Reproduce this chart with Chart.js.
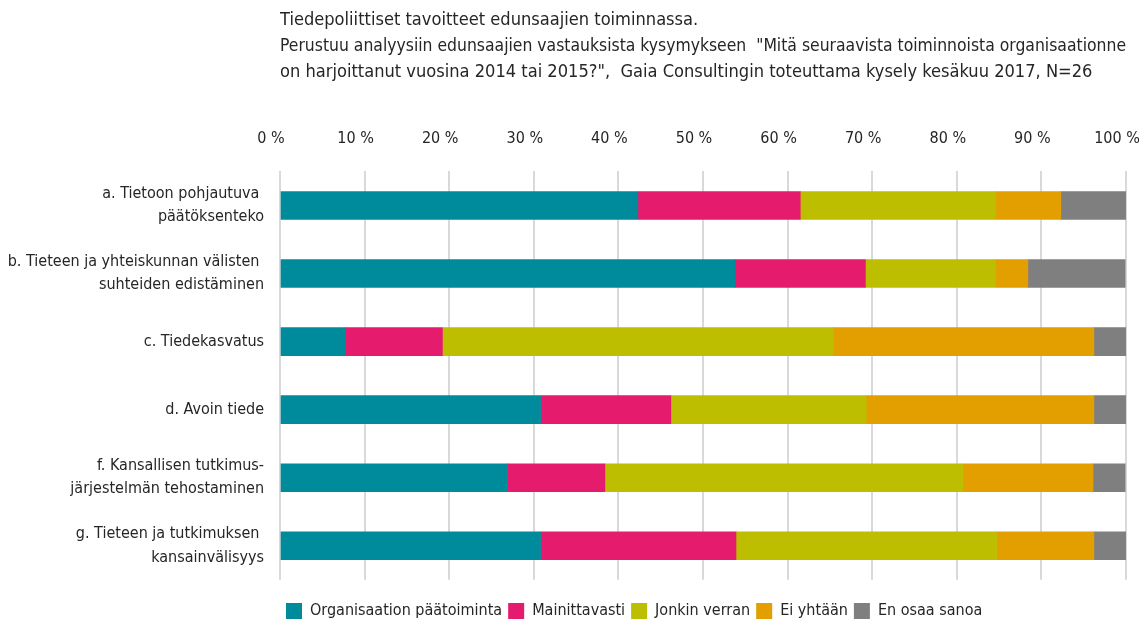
<!DOCTYPE html>
<html>
<head>
<meta charset="utf-8">
<script src="https://cdn.jsdelivr.net/npm/chart.js@4"></script>
<style>
  html, body { margin: 0; padding: 0; background: #fff; overflow: hidden; }
  #wrap { width: 1139px; height: 629px; position: relative; }
</style>
</head>
<body>
<div id="wrap"><canvas id="chart"></canvas></div>
<script>
const titleLines = [
  'Tiedepoliittiset tavoitteet edunsaajien toiminnassa.',
  'Perustuu analyysiin edunsaajien vastauksista kysymykseen  "Mitä seuraavista toiminnoista organisaationne',
  'on harjoittanut vuosina 2014 tai 2015?",  Gaia Consultingin toteuttama kysely kesäkuu 2017, N=26'
];

const categories = [
  ['a. Tietoon pohjautuva ', 'päätöksenteko'],
  ['b. Tieteen ja yhteiskunnan välisten ', 'suhteiden edistäminen'],
  'c. Tiedekasvatus',
  'd. Avoin tiede',
  ['f. Kansallisen tutkimus-', 'järjestelmän tehostaminen'],
  ['g. Tieteen ja tutkimuksen ', 'kansainvälisyys']
];

const organisaatio = [42.3, 53.8, 7.7, 30.8, 26.9, 30.8];
const mainittavasti = [19.2, 15.4, 11.5, 15.4, 11.5, 23.1];
const jonkinVerran = [23.1, 15.4, 46.2, 23.1, 42.3, 30.8];
const eiYhtaan = [7.7, 3.8, 30.8, 26.9, 15.4, 11.5];
const enOsaa = [7.7, 11.5, 3.8, 3.8, 3.8, 3.8];

const tickValues = [0, 10, 20, 30, 40, 50, 60, 70, 80, 90, 100];

Chart.defaults.font.family = '"DejaVu Sans Condensed", "Liberation Sans Narrow", sans-serif';
Chart.defaults.color = '#262626';

const ds = (label, data, color) => ({
  label: label,
  data: data,
  backgroundColor: color,
  borderWidth: 0,
  barThickness: 28
});

new Chart(document.getElementById('chart'), {
  type: 'bar',
  data: {
    labels: categories,
    datasets: [
      ds('Organisaation päätoiminta', organisaatio, '#008B9C'),
      ds('Mainittavasti', mainittavasti, '#E51B6E'),
      ds('Jonkin verran', jonkinVerran, '#BEBE00'),
      ds('Ei yhtään', eiYhtaan, '#E39E00'),
      ds('En osaa sanoa', enOsaa, '#7F7F7F')
    ]
  },
  options: {
    indexAxis: 'y',
    responsive: true,
    maintainAspectRatio: false,
    animation: false,
    layout: { padding: { left: 0, right: 13, top: 0, bottom: 0 } },
    scales: {
      x: {
        position: 'top',
        stacked: true,
        min: 0,
        max: 100,
        afterBuildTicks: (scale) => {
          scale.ticks = tickValues.map(v => ({ value: v }));
        },
        afterFit: (scale) => {
          scale.paddingRight = 13;
        },
        ticks: {
          callback: (v) => v + ' %',
          font: { size: 16 },
          padding: 23,
          labelOffset: -9,
          maxRotation: 0
        },
        grid: { color: '#d9d9d9', lineWidth: 2, drawTicks: false },
        border: { display: false }
      },
      y: {
        stacked: true,
        afterFit: (scale) => { scale.width = 280; },
        ticks: {
          font: { size: 16, lineHeight: 1.45 },
          padding: 8
        },
        grid: { display: false },
        border: { display: false }
      }
    },
    plugins: {
      title: {
        display: true,
        text: titleLines,
        align: 'start',
        fullSize: false,
        font: { size: 18.1, weight: 'normal', lineHeight: 1.45 },
        color: '#262626',
        padding: { top: 7, bottom: 20.5 }
      },
      legend: {
        position: 'bottom',
        fullSize: false,
        align: 'start',
        title: { display: true, text: ' ', font: { size: 1 }, padding: { top: 0, bottom: 16 } },
        labels: {
          boxWidth: 16,
          boxHeight: 16,
          font: { size: 16 },
          padding: 6
        }
      },
      tooltip: { enabled: false }
    }
  }
});
</script>
</body>
</html>
